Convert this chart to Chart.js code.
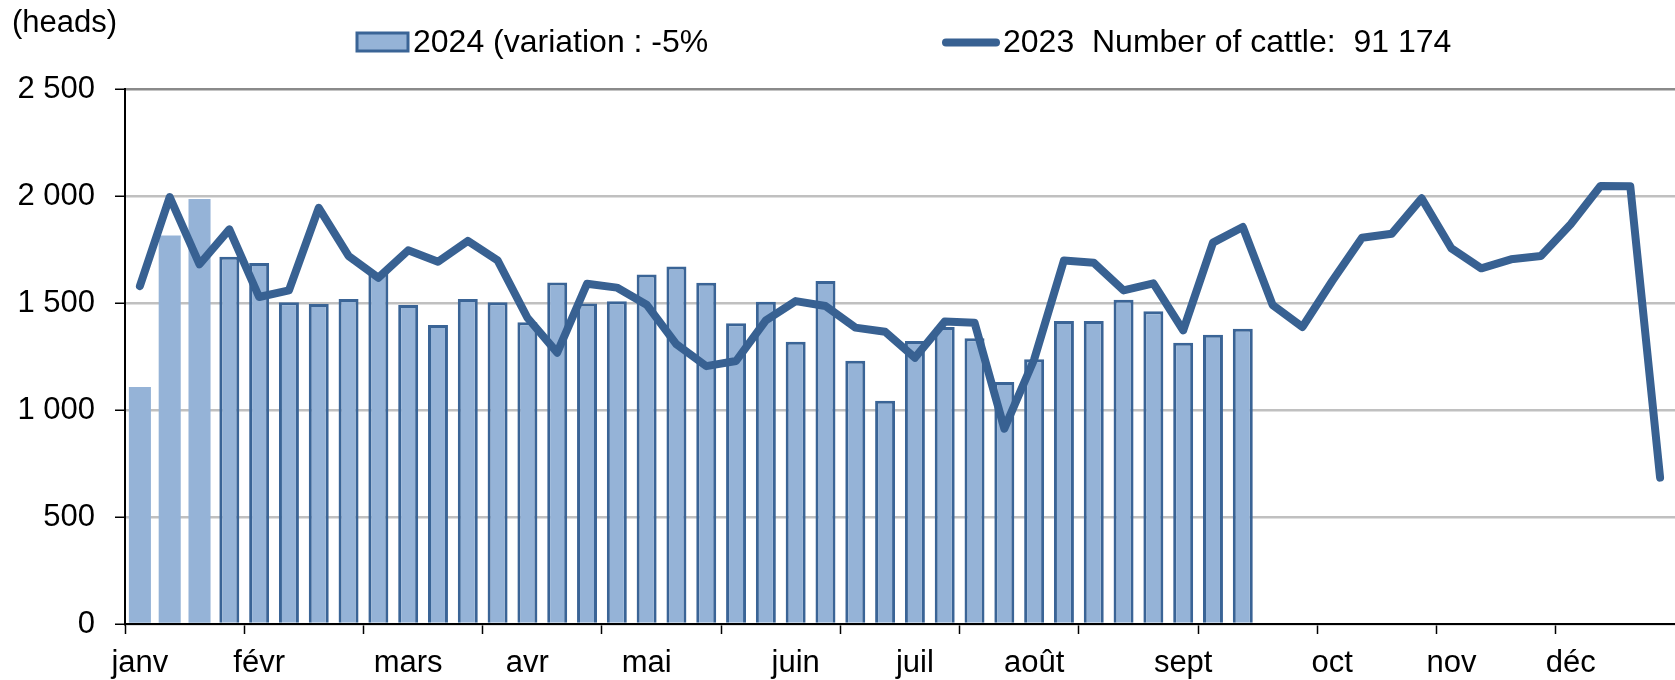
<!DOCTYPE html>
<html>
<head>
<meta charset="utf-8">
<script src="https://cdn.jsdelivr.net/npm/chart.js@4.4.1/dist/chart.umd.min.js"></script>
<style>
  html, body { margin: 0; padding: 0; background: #fff; }
  #wrap { width: 1675px; height: 680px; position: relative; }
</style>
</head>
<body>
<div id="wrap"><canvas id="cattleChart"></canvas></div>
<script>
// --- DATA (weekly) ---
const monthNames = ['janv', 'févr', 'mars', 'avr', 'mai', 'juin', 'juil', 'août', 'sept', 'oct', 'nov', 'déc'];
const monthStartWeek = [0, 4, 9, 13, 17, 22, 26, 30, 35, 40, 44, 48]; // index of week carrying the month label
const weekCount = 52;

// 2024 slaughter, heads per week (first 3 weeks shown lighter, no border)
const bars2024 = [1107, 1815, 1986, 1716, 1687, 1503, 1495, 1519, 1640, 1491,
                  1397, 1519, 1503, 1410, 1596, 1498, 1508, 1633, 1671, 1595,
                  1405, 1506, 1319, 1603, 1230, 1043, 1322, 1388, 1335, 1131,
                  1237, 1416, 1416, 1515, 1462, 1314, 1352, 1380];
const lightWeeks = 3;

// 2023, heads per week
const line2023 = [1579, 1995, 1681, 1844, 1528, 1559, 1945, 1720, 1618, 1746,
                  1693, 1790, 1699, 1431, 1268, 1590, 1572, 1492, 1307, 1205,
                  1229, 1419, 1509, 1486, 1385, 1366, 1244, 1413, 1408, 913,
                  1236, 1699, 1688, 1559, 1592, 1372, 1782, 1855, 1491, 1388,
                  1603, 1805, 1824, 1989, 1755, 1662, 1704, 1720, 1868, 2047,
                  2045, 684];

const yTicks = [0, 500, 1000, 1500, 2000, 2500];

const legendBar = '2024 (variation : -5%';
const legendLine = '2023  Number of cattle:  91 174';
const unitLabel = '(heads)';

// --- COLOURS ---
const barFill = '#95B3D7';
const barEdge = '#3A6496';
const lineColor = '#386192';
const FONT = '"Liberation Sans", Arial, Helvetica, sans-serif';

// build the week labels: only the weeks that start a month get a name
const weekLabels = [];
for (let i = 0; i < weekCount; i++) {
  const m = monthStartWeek.indexOf(i);
  weekLabels.push(m >= 0 ? monthNames[m] : '');
}

const lightData = bars2024.map((v, i) => i < lightWeeks ? v : null);
const mainData = bars2024.map((v, i) => i < lightWeeks ? null : v);

function spaced(n) {
  return String(n).replace(/\B(?=(\d{3})+(?!\d))/g, ' ');
}

// legend + unit label drawn by hand so they sit where the original has them
const headerPlugin = {
  id: 'header',
  afterDraw(chart) {
    const ctx = chart.ctx;
    ctx.save();
    ctx.fillStyle = '#000';
    ctx.textBaseline = 'alphabetic';
    ctx.textAlign = 'left';
    ctx.font = '31px ' + FONT;
    ctx.fillText(unitLabel, 12, 32);

    ctx.font = '32px ' + FONT;
    // bar swatch
    ctx.fillStyle = barFill;
    ctx.fillRect(357, 33, 51, 18);
    ctx.strokeStyle = barEdge;
    ctx.lineWidth = 3;
    ctx.strokeRect(357, 33, 51, 18);
    ctx.fillStyle = '#000';
    ctx.fillText(legendBar, 413, 52);

    // line swatch
    ctx.strokeStyle = lineColor;
    ctx.lineWidth = 8;
    ctx.lineCap = 'round';
    ctx.beginPath();
    ctx.moveTo(946, 42.5);
    ctx.lineTo(996, 42.5);
    ctx.stroke();
    ctx.fillText(legendLine, 1003, 52);
    ctx.restore();
  }
};

document.addEventListener('DOMContentLoaded', function () {
  const canvas = document.getElementById('cattleChart');

  new Chart(canvas.getContext('2d'), {
    type: 'bar',
    data: {
      labels: weekLabels,
      datasets: [
        {
          type: 'line',
          label: '2023',
          data: line2023,
          borderColor: lineColor,
          borderWidth: 8,
          borderCapStyle: 'round',
          borderJoinStyle: 'round',
          tension: 0,
          pointRadius: 0,
          fill: false,
          order: 0
        },
        {
          label: '2024',
          data: mainData,
          backgroundColor: barFill,
          borderColor: barEdge,
          borderWidth: 3,
          grouped: false,
          barPercentage: 0.67,
          categoryPercentage: 1,
          order: 1
        },
        {
          label: '2024 (début)',
          data: lightData,
          backgroundColor: barFill,
          borderWidth: 0,
          grouped: false,
          barPercentage: 0.74,
          categoryPercentage: 1,
          order: 2
        }
      ]
    },
    options: {
      responsive: true,
      maintainAspectRatio: false,
      animation: false,
      layout: { padding: { top: 89, left: 0, right: 0, bottom: 0 } },
      plugins: {
        legend: { display: false },
        tooltip: { enabled: false }
      },
      scales: {
        x: {
          offset: true,
          afterFit: function (scale) { scale.height = 56; },
          border: { display: true, color: '#000', width: 2 },
          grid: {
            offset: true,
            drawOnChartArea: false,
            drawTicks: true,
            tickLength: 10,
            tickWidth: 1.5,
            color: 'transparent',
            tickColor: function (c) { return c.index % 4 === 0 ? '#000' : 'transparent'; }
          },
          ticks: {
            autoSkip: false,
            maxRotation: 0,
            padding: 11,
            color: '#000',
            font: { family: FONT, size: 31 }
          }
        },
        y: {
          min: 0,
          max: 2500,
          afterFit: function (scale) { scale.width = 125; },
          afterBuildTicks: function (scale) { scale.ticks = yTicks.map(v => ({ value: v })); },
          border: { display: true, color: '#000', width: 2 },
          grid: {
            color: function (c) { return c.tick && c.tick.value === 2500 ? '#8A8A8A' : '#C0C0C0'; },
            lineWidth: 2.5,
            tickLength: 10,
            tickColor: '#000',
            tickWidth: 1.5
          },
          ticks: {
            padding: 20,
            color: '#000',
            font: { family: FONT, size: 31 },
            callback: function (v) { return spaced(v); }
          }
        }
      }
    },
    plugins: [headerPlugin]
  });
});
</script>
</body>
</html>
